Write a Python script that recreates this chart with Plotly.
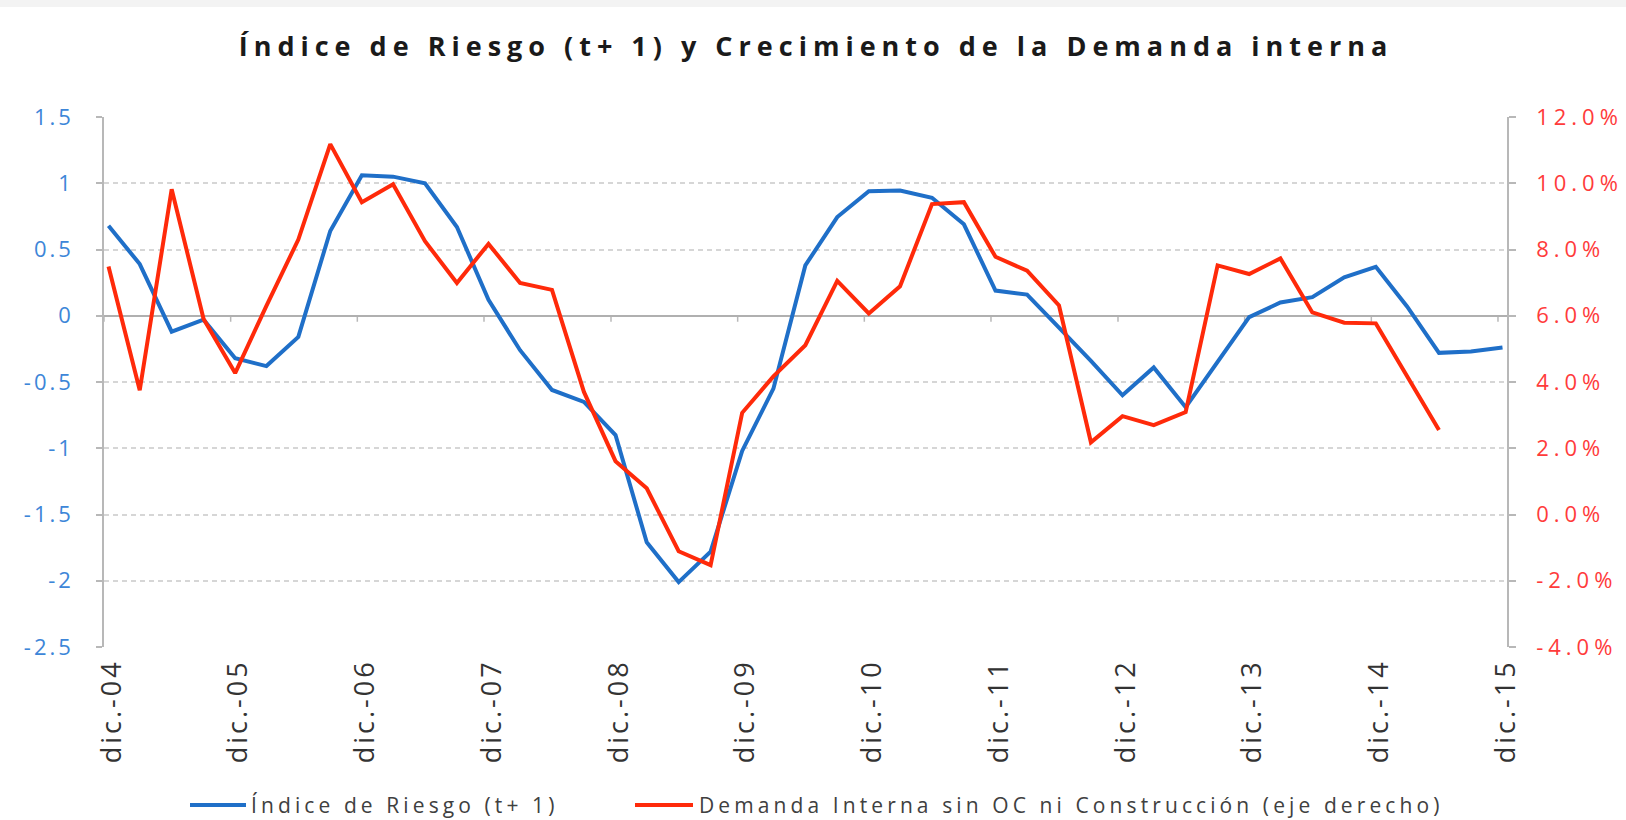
import plotly.graph_objects as go
import pandas as pd

# Quarterly observations, dic.-04 ... dic.-15
dates = [(pd.Timestamp(2004, 12, 14) + pd.DateOffset(months=3 * k)).strftime("%Y-%m-%d") for k in range(45)]

riesgo = [0.68, 0.39, -0.12, -0.03, -0.32, -0.38, -0.16, 0.64, 1.06, 1.05,
          1.00, 0.67, 0.12, -0.26, -0.56, -0.65, -0.90, -1.71, -2.01, -1.78,
          -1.02, -0.55, 0.38, 0.745, 0.94, 0.945, 0.89, 0.69, 0.19, 0.16,
          -0.09, -0.34, -0.60, -0.39, -0.69, -0.35, -0.01, 0.10, 0.14, 0.29,
          0.37, 0.07, -0.28, -0.27, -0.24]

demanda = [7.49, 3.75, 9.82, 5.90, 4.27, 6.30, 8.30, 11.18, 9.43, 9.97,
           8.25, 6.99, 8.17, 6.99, 6.78, 3.70, 1.61, 0.79, -1.11, -1.53,
           3.07, 4.17, 5.11, 7.05, 6.07, 6.89, 9.37, 9.43, 7.78, 7.36,
           6.31, 2.18, 2.97, 2.70, 3.09, 7.52, 7.26, 7.73, 6.10, 5.79,
           5.77, 4.17, 2.55]

years = list(range(2004, 2016))
tick_marks = ["%d-12-01" % y for y in years]          # axis tick marks
label_pos = ["%d-12-24" % y for y in years]           # label anchors
tick_labels = ["dic.-%02d" % (y % 100) for y in years]

left_vals = [1.5, 1.0, 0.5, 0.0, -0.5, -1.0, -1.5, -2.0, -2.5]
left_text = ["1.5", "1", "0.5", "0", "-0.5", "-1", "-1.5", "-2", "-2.5"]
right_vals = [12, 10, 8, 6, 4, 2, 0, -2, -4]
right_text = ["12.0%", "10.0%", "8.0%", "6.0%", "4.0%", "2.0%", "0.0%", "-2.0%", "-4.0%"]

name_riesgo = "Índice de Riesgo (t+ 1)"
name_demanda = "Demanda Interna sin OC ni Construcción (eje derecho)"
title_text = "Índice de Riesgo (t+ 1) y Crecimiento de la Demanda interna"

BLUE = "#1f6fc8"
RED = "#ff2a0a"
FONT = "Open Sans"
AXIS_GRAY = "#b8b8b8"

# plot-area geometry (pixels)
W, H = 1626, 820
L, R, T, B = 104, 1507, 117, 647


def px_x(p):
    return (p - L) / (R - L)


def px_y(p):
    return (B - p) / (B - T)


fig = go.Figure()
fig.add_trace(go.Scatter(x=dates, y=riesgo, mode="lines", name=name_riesgo,
                         line=dict(color=BLUE, width=4), yaxis="y", showlegend=False))
fig.add_trace(go.Scatter(x=dates[:len(demanda)], y=demanda, mode="lines", name=name_demanda,
                         line=dict(color=RED, width=4), yaxis="y2", showlegend=False))

# small tick marks on the zero line at each year
for td in tick_marks:
    fig.add_shape(type="line", xref="x", yref="y", x0=td, x1=td, y0=0, y1=-6,
                  ysizemode="pixel", yanchor=0, layer="below",
                  line=dict(color=AXIS_GRAY, width=1.5))

# faint strip at the top edge of the image
fig.add_shape(type="rect", xref="paper", yref="paper", x0=px_x(-10), x1=px_x(W + 10),
              y0=px_y(7), y1=px_y(-10),
              line=dict(width=0), fillcolor="#f3f3f3", layer="below")

# legend (samples + labels) at the bottom
LEG_Y = 805
legend_items = [(name_riesgo, BLUE, 190, 246, 249), (name_demanda, RED, 635, 693, 697)]
for name, color, s0, s1, tx in legend_items:
    fig.add_shape(type="line", xref="paper", yref="paper",
                  x0=px_x(s0), x1=px_x(s1), y0=px_y(LEG_Y), y1=px_y(LEG_Y),
                  line=dict(color=color, width=4))
    fig.add_annotation(text=name, xref="paper", yref="paper", x=px_x(tx), y=px_y(LEG_Y),
                       xanchor="left", yanchor="middle", align="left", showarrow=False,
                       font=dict(family=FONT, size=21, color="#404040"))

fig.update_layout(
    width=W, height=H,
    paper_bgcolor="white", plot_bgcolor="white",
    margin=dict(l=L, r=W - R, t=T, b=H - B, autoexpand=False),
    font=dict(family=FONT, color="#333333"),
    title=dict(text="<b>" + title_text + "</b>", x=816 / W, xanchor="center",
               y=1 - 47 / H, yanchor="middle",
               font=dict(family=FONT, size=27, color="#1a1a1a")),
    showlegend=False,
    xaxis=dict(type="date", range=["2004-12-01", "2015-12-27"], automargin=False,
               tickmode="array", tickvals=label_pos, ticktext=tick_labels,
               tickangle=-90, showgrid=False, zeroline=False, showline=False,
               ticks="", ticklabelstandoff=6,
               tickfont=dict(family=FONT, size=27, color="#333333")),
    yaxis=dict(range=[-2.5, 1.5], automargin=False,
               tickmode="array", tickvals=left_vals, ticktext=left_text,
               showgrid=True, gridcolor="#d6d6d6", gridwidth=1.5, griddash="5px,4px",
               zeroline=True, zerolinecolor="#b0b0b0", zerolinewidth=1.5,
               showline=True, linecolor=AXIS_GRAY, linewidth=1.5,
               ticks="outside", ticklen=6, tickcolor=AXIS_GRAY, tickwidth=1.5,
               ticklabelstandoff=18,
               tickfont=dict(family=FONT, size=22, color="#3d86d8")),
    yaxis2=dict(range=[-4, 12], overlaying="y", side="right", anchor="x", automargin=False,
                tickmode="array", tickvals=right_vals, ticktext=right_text,
                showgrid=False, zeroline=False,
                showline=True, linecolor=AXIS_GRAY, linewidth=1.5,
                ticks="outside", ticklen=7, tickcolor=AXIS_GRAY, tickwidth=1.5,
                ticklabelstandoff=16,
                tickfont=dict(family=FONT, size=22, color="#ff3b3b")),
)

# page without the default body margin, and Excel-like wide letter spacing of texts
post = """
document.body.style.margin = '0';
document.body.style.padding = '0';
var gd = document.getElementById('{plot_id}');
function spacing() {
  gd.querySelectorAll('.gtitle').forEach(function(e){ e.style.letterSpacing = '6px'; });
  gd.querySelectorAll('.annotation-text').forEach(function(e){ e.style.letterSpacing = '4.1px'; });
  gd.querySelectorAll('.xtick text').forEach(function(e){ e.style.letterSpacing = '3px'; });
  gd.querySelectorAll('.ytick text').forEach(function(e){ e.style.letterSpacing = '3px'; });
  gd.querySelectorAll('.y2tick text').forEach(function(e){ e.style.letterSpacing = '5px'; });
}
spacing();
if (gd.on) { gd.on('plotly_afterplot', spacing); }
[0, 50, 200, 500].forEach(function(t){ setTimeout(spacing, t); });
"""

fig.write_html("out.html", post_script=post, config={"displayModeBar": False})
